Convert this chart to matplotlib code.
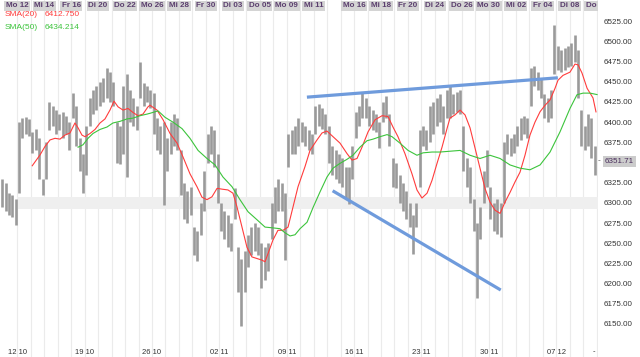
import numpy as np
import matplotlib
matplotlib.use("Agg")
import matplotlib.pyplot as plt

plt.rcParams['font.family'] = ['Liberation Sans', 'DejaVu Sans']

# day 0 = Mo 12.10., one gridline per trading day
top_days = [0, 2, 4, 6, 8, 10, 12, 14, 16, 18, 20, 22, 25, 27, 29, 31, 33, 35, 37, 39, 41, 43]
top_labels = ["Mo 12", "Mi 14", "Fr 16", "Di 20", "Do 22", "Mo 26", "Mi 28", "Fr 30", "Di 03", "Do 05",
              "Mo 09", "Mi 11", "Mo 16", "Mi 18", "Fr 20", "Di 24", "Do 26", "Mo 30", "Mi 02", "Fr 04",
              "Di 08", "Do 10"]
week_days = [0, 5, 10, 15, 20, 25, 30, 35, 40]
week_labels = ["12 10", "19 10", "26 10", "02 11", "09 11", "16 11", "23 11", "30 11", "07 12"]

# price bars, 4 per day, first one at day -1.125
highs = [6330, 6325, 6312, 6310, 6305, 6400, 6405, 6406, 6404, 6388, 6392, 6380, 6330, 6375, 6425, 6420,
         6415, 6410, 6412, 6408, 6400, 6436, 6420, 6380, 6360, 6395, 6430, 6440, 6445, 6450, 6455, 6467,
         6462, 6450, 6400, 6395, 6445, 6460, 6440, 6430, 6420, 6475, 6448, 6445, 6440, 6436, 6405, 6395,
         6400, 6380, 6400, 6410, 6405, 6365, 6325, 6315, 6320, 6270, 6265, 6300, 6340, 6385, 6395, 6390,
         6360, 6300, 6290, 6285, 6275, 6318, 6245, 6230, 6240, 6260, 6270, 6275, 6270, 6250, 6245, 6250,
         6300, 6320, 6330, 6325, 6312, 6385, 6390, 6395, 6405, 6400, 6395, 6390, 6385, 6420, 6422, 6418,
         6410, 6395, 6370, 6365, 6360, 6355, 6345, 6345, 6370, 6412, 6420, 6436, 6430, 6420, 6415, 6410,
         6400, 6425, 6432, 6410, 6355, 6350, 6335, 6325, 6315, 6300, 6285, 6300, 6390, 6395, 6390, 6420,
         6425, 6430, 6435, 6420, 6440, 6445, 6435, 6438, 6440, 6395, 6355, 6345, 6305, 6275, 6295, 6340,
         6365, 6320, 6300, 6305, 6300, 6375, 6385, 6380, 6385, 6395, 6405, 6408, 6405, 6467, 6470, 6462,
         6455, 6435, 6430, 6440, 6520, 6495, 6490, 6492, 6495, 6498, 6508, 6490, 6415, 6395, 6410, 6405,
         6370]
lows = [6295, 6290, 6285, 6283, 6272, 6312, 6380, 6385, 6383, 6362, 6365, 6330, 6310, 6330, 6390, 6395,
        6385, 6390, 6380, 6385, 6365, 6405, 6370, 6340, 6312, 6335, 6395, 6410, 6415, 6420, 6425, 6430,
        6425, 6420, 6350, 6348, 6360, 6332, 6400, 6395, 6390, 6430, 6420, 6425, 6418, 6385, 6365, 6360,
        6297, 6340, 6360, 6370, 6365, 6310, 6280, 6275, 6285, 6235, 6228, 6260, 6290, 6350, 6360, 6345,
        6300, 6265, 6255, 6245, 6240, 6280, 6190, 6147, 6190, 6220, 6235, 6240, 6235, 6195, 6205, 6215,
        6255, 6275, 6290, 6290, 6229, 6345, 6360, 6360, 6370, 6375, 6370, 6365, 6360, 6385, 6395, 6392,
        6385, 6350, 6335, 6330, 6325, 6320, 6305, 6298, 6330, 6380, 6395, 6405, 6405, 6395, 6390, 6388,
        6368, 6400, 6405, 6370, 6320, 6318, 6300, 6290, 6280, 6270, 6237, 6270, 6320, 6370, 6365, 6375,
        6385, 6395, 6400, 6385, 6405, 6405, 6410, 6412, 6410, 6340, 6320, 6300, 6265, 6182, 6255, 6300,
        6320, 6280, 6265, 6262, 6258, 6300, 6360, 6358, 6362, 6370, 6378, 6385, 6380, 6420, 6445, 6440,
        6430, 6405, 6400, 6405, 6460, 6465, 6462, 6465, 6468, 6470, 6475, 6430, 6370, 6365, 6370, 6355,
        6335]

sma20_t = [1.11, 1.69, 2.06, 2.43, 2.80, 3.17, 3.54, 3.91, 4.28, 4.51, 4.80, 5.03, 5.40, 5.77, 6.14, 6.51,
           6.88, 7.18, 7.48, 7.85, 8.22, 8.59, 8.96, 9.33, 9.70, 9.85, 10.37, 10.82, 11.34, 11.86, 12.30,
           12.82, 13.34, 13.71, 14.08, 14.45, 14.83, 15.20, 15.64, 16.01, 16.31, 16.68, 17.05, 17.42, 17.80,
           18.17, 18.39, 18.61, 18.98, 19.35, 19.73, 20.10, 20.47, 20.84, 21.36, 21.73, 22.25, 22.62, 22.99,
           23.44, 23.96, 24.48, 24.85, 25.22, 25.59, 26.04, 26.56, 27.08, 27.52, 27.89, 28.26, 28.78, 29.30,
           29.67, 30.04, 30.42, 30.79, 31.16, 31.53, 31.90, 32.12, 32.49, 32.87, 33.24, 33.61, 33.98, 34.35,
           34.72, 35.09, 35.46, 35.84, 36.21, 36.58, 36.95, 37.32, 37.69, 38.06, 38.43, 38.81, 39.18, 39.55,
           39.92, 40.14, 40.51, 41.03, 41.40, 41.63, 41.92, 42.30, 42.74, 42.96]
sma20 = [6346, 6359.5, 6370, 6378, 6380, 6379, 6384, 6386.6, 6399, 6393, 6384, 6382, 6386, 6391, 6399, 6404,
         6415, 6426, 6419, 6415, 6417, 6412, 6408, 6410, 6419, 6421, 6415, 6403, 6386, 6374, 6357,
         6336, 6320, 6307, 6304, 6307.5, 6318, 6317, 6316, 6312, 6295, 6270, 6245, 6233, 6231,
         6229, 6227, 6237, 6254, 6266, 6266, 6270, 6295, 6320, 6345, 6365, 6378, 6386.6, 6389,
         6382, 6374, 6361, 6353, 6355, 6369, 6388, 6403, 6408, 6407, 6394, 6382, 6361, 6336,
         6316, 6306, 6312, 6328, 6349, 6369, 6392, 6405, 6409, 6415, 6409, 6393, 6368, 6343,
         6318, 6301, 6291, 6287, 6301, 6313, 6326, 6338, 6359, 6384, 6400, 6413, 6421, 6427.5,
         6442, 6452, 6458, 6462, 6472, 6471, 6461, 6442, 6430, 6412.75]

sma50_t = [4.51, 4.88, 5.25, 5.62, 6.14, 6.66, 7.10, 7.62, 8.14, 8.59, 9.11, 9.63, 9.85, 10.45, 10.97, 11.56,
           12.23, 12.82, 13.42, 14.08, 14.68, 15.27, 15.94, 16.53, 17.13, 17.80, 18.39, 18.98, 19.50, 19.87,
           20.25, 20.62, 20.99, 21.51, 21.95, 22.47, 22.99, 23.44, 23.96, 24.48, 24.92, 25.44, 25.96, 26.41,
           26.93, 27.45, 27.82, 28.41, 29.01, 29.67, 30.12, 30.79, 31.38, 32.12, 32.87, 33.61, 34.35, 35.09,
           35.84, 36.58, 37.32, 38.06, 38.81, 39.55, 40.29, 41.03, 41.55, 42.00, 42.52, 43.04]
sma50 = [6369, 6372, 6380, 6386, 6391, 6394, 6399, 6401, 6404, 6405, 6408, 6410, 6411, 6414, 6406, 6400,
         6392, 6380, 6365, 6355, 6347, 6332, 6320, 6304, 6289, 6279, 6270, 6269, 6268, 6263,
         6259, 6260.5, 6268, 6276, 6294, 6313.5, 6332, 6343, 6349, 6354, 6359, 6369, 6377, 6379,
         6382, 6384.6, 6382, 6374, 6365, 6359, 6362, 6363, 6363, 6364, 6365, 6359, 6355, 6359,
         6355, 6347, 6343, 6341, 6347, 6363, 6388, 6417, 6434, 6436, 6436, 6434.2]

# hand drawn trend lines (day, price)
upper_t, upper_p = [21.5, 40.13], [6431, 6455]
lower_t, lower_p = [23.41, 35.89], [6315, 6192]

last_price = 6351.71

fig = plt.figure(figsize=(6.4, 3.57), dpi=100)
ax = fig.add_axes([0, 0, 598 / 640, 1])
ax.set_xlim(-1.284, 43.11)
ax.set_ylim(6109, 6551.4)
for s in ax.spines.values():
    s.set_visible(False)

for d in range(0, 44):
    ax.axvline(d, color='#ebebeb', lw=0.8, zorder=0)

x0 = (0 + 1.284) / (43.11 + 1.284)
ax.axhspan(6293, 6307, xmin=x0, xmax=1, color='#efefef', lw=0, zorder=0.5)

bar_t = -1.125 + 0.25 * np.arange(len(highs))
ax.vlines(bar_t, lows, highs, color='#9a9a9a', lw=1.9, zorder=2)

ax.plot(sma20_t, sma20, color='#ff3c3c', lw=0.8, zorder=3)
ax.plot(sma50_t, sma50, color='#3cc43c', lw=0.8, zorder=3)
ax.plot(upper_t, upper_p, color='#6f9bdc', lw=2.3, solid_capstyle='butt', zorder=4)
ax.plot(lower_t, lower_p, color='#6f9bdc', lw=2.3, solid_capstyle='butt', zorder=4)

# right price scale
ticks = [v for v in range(6150, 6526, 25) if v != 6350]
ax.yaxis.tick_right()
ax.set_yticks(ticks)
ax.set_yticklabels(["%.2f" % v for v in ticks])
ax.tick_params(axis='y', length=0, pad=4, labelsize=5.8, labelcolor='#333333')
ax.set_xticks([])
ax.text(1.0, last_price, "-", transform=ax.get_yaxis_transform(), fontsize=6, va='center', ha='left',
        color='#555555')
ax.text(1.011, last_price, "6351.71", transform=ax.get_yaxis_transform(), fontsize=5.8, va='center',
        ha='left', color='#4a2f5c', bbox=dict(boxstyle='square,pad=0.25', fc='#cccccc', ec='none'))

# top day labels
trans = ax.get_xaxis_transform()
for d, lab in zip(top_days, top_labels):
    ax.text(d, 0.984, lab, transform=trans, ha='center', va='center', fontsize=5.8, fontweight='bold',
            color='#5b3f6e', clip_on=True,
            bbox=dict(boxstyle='square,pad=0.2', fc='#d4d4d4', ec='none'))

# bottom week labels
for d, lab in zip(week_days, week_labels):
    ax.text(d, 0.014, lab, transform=trans, ha='center', va='center', fontsize=5.5, color='#333333')
fig.text(594 / 640, 0.014, "-", ha='center', va='center', fontsize=5.5, color='#333333')

# legend
ax.text(0.007, 0.958, "SMA(20)", transform=ax.transAxes, fontsize=6, color='#ff3c3c', va='center')
ax.text(0.075, 0.958, "6412.750", transform=ax.transAxes, fontsize=6, color='#ff3c3c', va='center')
ax.text(0.007, 0.922, "SMA(50)", transform=ax.transAxes, fontsize=6, color='#3cc43c', va='center')
ax.text(0.075, 0.922, "6434.214", transform=ax.transAxes, fontsize=6, color='#3cc43c', va='center')

fig.savefig("out.png", dpi=100)
